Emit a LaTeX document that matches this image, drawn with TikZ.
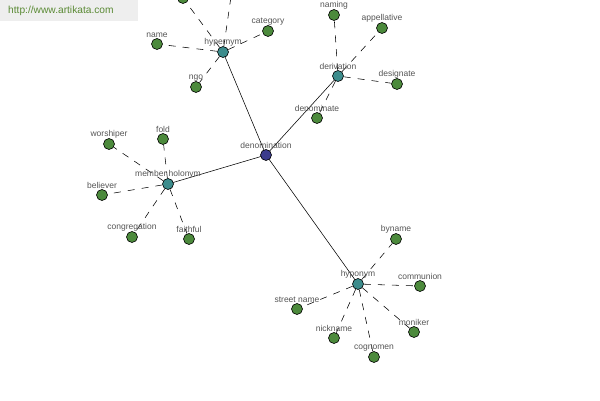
\documentclass[tikz,border=0pt]{standalone}
\usepackage{fontspec}
\setmainfont{Liberation Sans}
\definecolor{leaf}{HTML}{4C8A3C}
\definecolor{mid}{HTML}{3C8C8C}
\definecolor{hub}{HTML}{3C3C8C}
\definecolor{labc}{HTML}{555555}
\definecolor{wm}{HTML}{5A8A34}
\definecolor{wmbg}{HTML}{EEEEEE}
\pgfdeclarelayer{bg}
\pgfsetlayers{bg,main}
\tikzset{
  dot/.style={circle,draw=black,line width=0.6pt,minimum size=11pt,inner sep=0pt},
  lab/.style={label={[labc,font=\fontsize{8.5}{9}\selectfont,inner sep=1pt,yshift=-1pt]above:#1}},
  leafdot/.style={dot,fill=leaf},
  middot/.style={dot,fill=mid},
  hubdot/.style={dot,fill=hub},
  link/.style={line width=0.55pt},
  dlink/.style={line width=0.55pt,dash pattern=on 7pt off 7pt},
}
\begin{document}
\begin{tikzpicture}[x=1pt,y=-1pt]
\useasboundingbox (0,0) rectangle (600,400);
\clip (0,0) rectangle (600,400);
% nodes
\node[hubdot,lab=denomination] (den) at (266,155) {};
\node[middot,lab=hypernym] (hyper) at (223,52) {};
\node[middot,lab=derivation] (deriv) at (338,76) {};
\node[middot,lab={member holonym}] (mem) at (168,184) {};
\node[middot,lab=hyponym] (hypo) at (358,284) {};
% hypernym leaves
\node[leafdot,lab=name] (name) at (157,44) {};
\node[leafdot,lab=category] (cat) at (268,31) {};
\node[leafdot,lab=ngo] (ngo) at (196,87) {};
\node[leafdot] (hx1) at (183,-2) {};
\node[leafdot] (hx2) at (234,-24) {};
% derivation leaves
\node[leafdot,lab=naming] (naming) at (334,15) {};
\node[leafdot,lab=appellative] (app) at (382,28) {};
\node[leafdot,lab=designate] (des) at (397,84) {};
\node[leafdot,lab=denominate] (dnm) at (317,118) {};
% member holonym leaves
\node[leafdot,lab=worshiper] (wor) at (109,144) {};
\node[leafdot,lab=fold] (fold) at (163,139) {};
\node[leafdot,lab=believer] (bel) at (102,195) {};
\node[leafdot,lab=congregation] (cong) at (132,237) {};
\node[leafdot,lab=faithful] (fai) at (189,239) {};
% hyponym leaves
\node[leafdot,lab=byname] (byn) at (396,239) {};
\node[leafdot,lab=communion] (comm) at (420,286) {};
\node[leafdot,lab={street name}] (str) at (297,309) {};
\node[leafdot,lab=nickname] (nick) at (334,338) {};
\node[leafdot,lab=cognomen] (cog) at (374,357) {};
\node[leafdot,lab=moniker] (mon) at (414,332) {};
% connectors
\begin{pgfonlayer}{bg}
\fill[white] (0,0) rectangle (600,400);
\draw[link] (den.center) -- (hyper.center);
\draw[link] (den.center) -- (deriv.center);
\draw[link] (den.center) -- (mem.center);
\draw[link] (den.center) -- (hypo.center);
\foreach \a in {name,cat,ngo,hx1,hx2} \draw[dlink] (hyper) -- (\a);
\foreach \a in {naming,app,des,dnm} \draw[dlink] (deriv) -- (\a);
\foreach \a in {wor,fold,bel,cong,fai} \draw[dlink] (mem) -- (\a);
\foreach \a in {byn,comm,str,nick,cog,mon} \draw[dlink] (hypo) -- (\a);
\end{pgfonlayer}
% watermark
\fill[wmbg] (0,0) rectangle (138,21);
\node[wm,font=\fontsize{10.2}{11}\selectfont,anchor=west,inner sep=0pt] (wmk) at (8,11) {http://www.artikata.com};
\end{tikzpicture}
\end{document}
